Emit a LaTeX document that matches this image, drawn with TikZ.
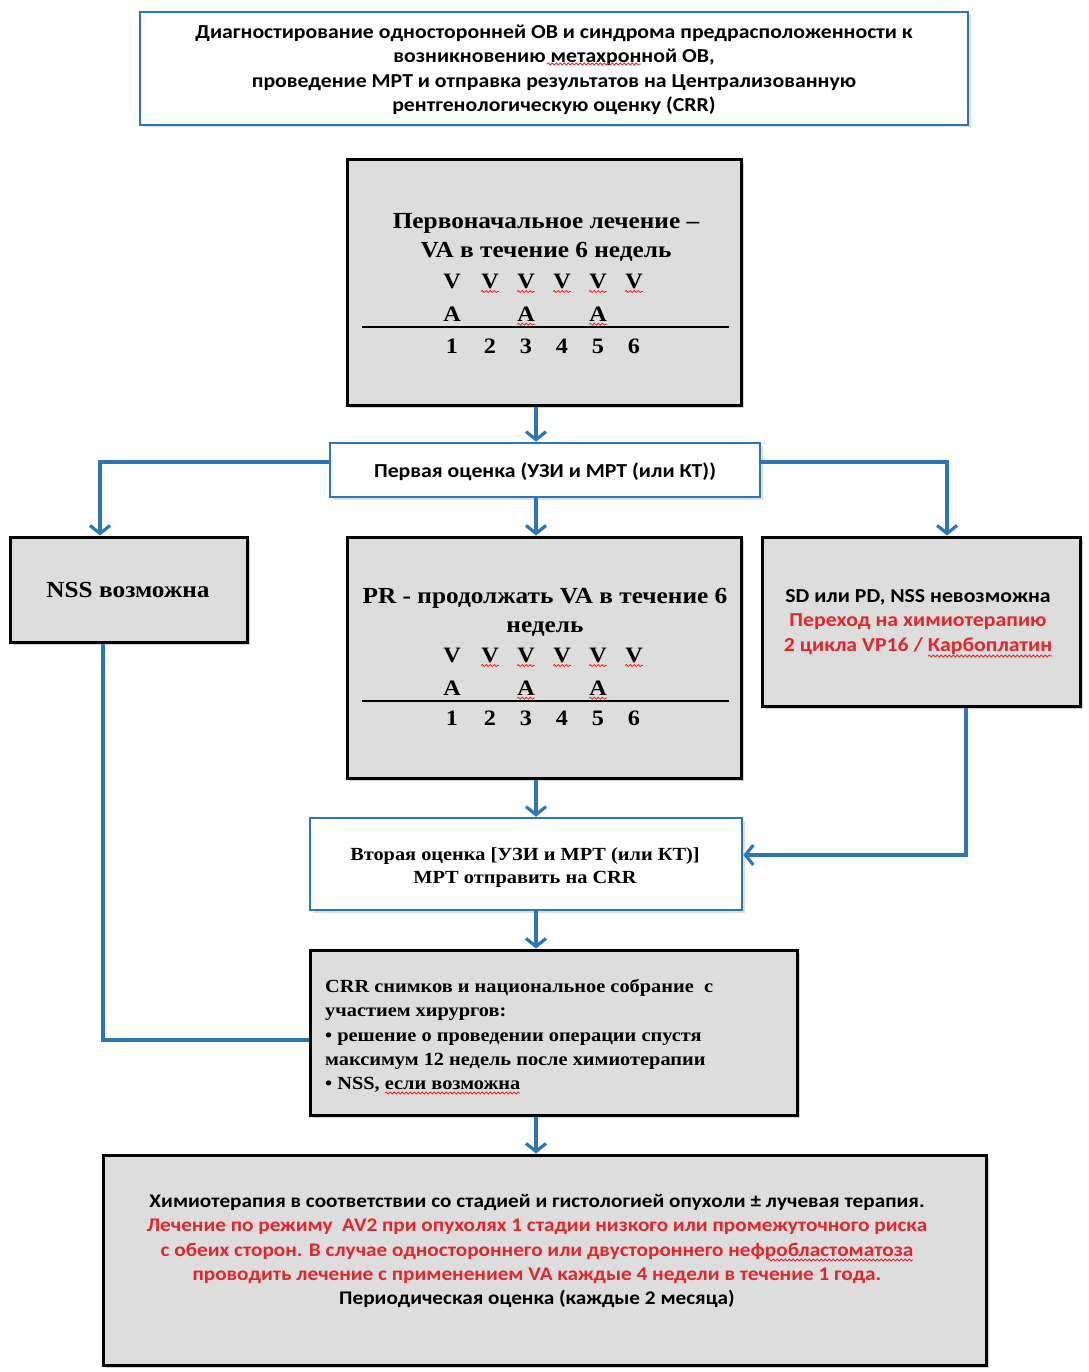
\documentclass[tikz,border=0pt]{standalone}
\usepackage{fontspec}
\setmainfont[FakeStretch=1.1]{Liberation Serif}
\newfontfamily\calfont[FakeStretch=1.1]{Carlito}
\usetikzlibrary{arrows.meta,shadows,decorations.pathmorphing}
\definecolor{lnblue}{HTML}{2E75B6}
\definecolor{boxgray}{HTML}{DDDDDD}
\definecolor{txtred}{HTML}{E3262C}
\begin{document}
\begin{tikzpicture}[x=1pt,y=-1pt,
  bluebox/.style={draw=lnblue,line width=2.6pt,fill=white,rectangle,inner sep=0pt,
    drop shadow={opacity=0.25,shadow xshift=2.5pt,shadow yshift=-2.5pt}},
  graybox/.style={draw=black,line width=3pt,fill=boxgray,rectangle,inner sep=0pt,
    drop shadow={opacity=0.35,shadow xshift=2.5pt,shadow yshift=-2.5pt}},
  arr/.style={draw=lnblue,line width=3.4pt,-{Straight Barb[length=8pt,width=20pt,line width=3.2pt]}},
  conn/.style={draw=lnblue,line width=3.4pt},
  serift/.style={font=\fontsize{23}{29}\selectfont\bfseries,inner sep=0pt,align=center},
  sanst/.style={font=\calfont\fontsize{19.8}{24.5}\selectfont\bfseries,inner sep=0pt,align=center},
  cell/.style={font=\fontsize{22}{26}\selectfont\bfseries,inner sep=0pt,anchor=base},
  spell/.style={draw=txtred,line width=0.8pt,decorate,decoration={snake,segment length=4pt,amplitude=1pt}},
  rule/.style={draw=black,line width=2pt}
]
\useasboundingbox (0,0) rectangle (1088,1372);
\coordinate (cx) at (536,0);

% boxes
\node[bluebox,minimum width=828pt,minimum height=113pt] (top) at (554,68.5) {};
\node[graybox,minimum width=394pt,minimum height=245pt] (gray1) at (544,282.5) {};
\node[bluebox,minimum width=430pt,minimum height=54pt] (as1) at (545,470) {};
\node[graybox,minimum width=237pt,minimum height=105pt] (left) at (128.5,589.5) {};
\node[graybox,minimum width=394pt,minimum height=241pt] (mid) at (544,657.5) {};
\node[graybox,minimum width=318pt,minimum height=169pt] (right) at (921,621.5) {};
\node[bluebox,minimum width=432pt,minimum height=92pt] (as2) at (526,864) {};
\node[graybox,minimum width=487pt,minimum height=165pt] (crr) at (553.5,1032.5) {};
\node[graybox,minimum width=883pt,minimum height=210pt] (bot) at (544.5,1260) {};

% texts
\node[sanst] (ttop) at (554,70) {Диагностирование односторонней ОВ и синдрома предрасположенности к\\
возникновению метахронной ОВ,\\
проведение МРТ и отправка результатов на Централизованную\\
рентгенологическую оценку (CRR)};

\node[serift] (tg1) at (546,237) {Первоначальное лечение –\\VA в течение 6 недель};
\foreach \i/\xx in {1/452,2/490,3/526,4/562,5/598,6/634}{
  \node[cell] (va\i) at (\xx,288) {V};
  \node[cell] (vn\i) at (\xx,353) {\i};
  \node[cell] (vb\i) at (\xx,662) {V};
  \node[cell] (vm\i) at (\xx,725) {\i};
}
\foreach \i/\xx in {1/452,3/526,5/598}{
  \node[cell] (aa\i) at (\xx,321) {A};
  \node[cell] (ab\i) at (\xx,695) {A};
}
\draw[rule] (362,327) -- (729,327);
\draw[rule] (362,701) -- (729,701);
\foreach \i in {2,...,6}{
  \draw[spell] ([yshift=-3pt]va\i.south west) -- ([yshift=-3pt]va\i.south east);
  \draw[spell] ([yshift=-3pt]vb\i.south west) -- ([yshift=-3pt]vb\i.south east);
}
\foreach \i in {3,5}{
  \draw[spell] ([yshift=-3pt]aa\i.south west) -- ([yshift=-3pt]aa\i.south east);
  \draw[spell] ([yshift=-3pt]ab\i.south west) -- ([yshift=-3pt]ab\i.south east);
}

\node[sanst] (tas1) at (545,472) {Первая оценка (УЗИ и МРТ (или КТ))};
\node[serift] (tleft) at (128,590) {NSS возможна};
\node[serift] (tmid) at (545,612) {PR - продолжать VA в течение 6\\недель};
\node[sanst] (tright) at (918,622) {SD или PD, NSS невозможна\\
\textcolor{txtred}{Переход на химиотерапию}\\
\textcolor{txtred}{2 цикла VP16 / Карбоплатин}};

\node[font=\fontsize{18.5}{23}\selectfont\bfseries,inner sep=0pt,align=center] (tas2) at (525,868) {Вторая оценка [УЗИ и МРТ (или КТ)]\\МРТ отправить на CRR};
\node[font=\fontsize{18.5}{24.3}\selectfont\bfseries,inner sep=0pt,align=left,anchor=west] (tcrr) at (325,1036) {CRR снимков и национальное собрание~~с\\
участием хирургов:\\
• решение о проведении операции спустя\\
максимум 12 недель после химиотерапии\\
• NSS, если возможна};

\node[sanst,font=\calfont\fontsize{19.3}{24.3}\selectfont\bfseries] (tbot) at (537,1251) {Химиотерапия в соответствии со стадией и гистологией опухоли ± лучевая терапия.\\
\textcolor{txtred}{Лечение по режиму~~AV2 при опухолях 1 стадии низкого или промежуточного риска}\\
\textcolor{txtred}{с обеих сторон. В случае одностороннего или двустороннего нефробластоматоза}\\
\textcolor{txtred}{проводить лечение с применением VA каждые 4 недели в течение 1 года.}\\
Периодическая оценка (каждые 2 месяца)};

% spell-check squiggles under words
\draw[spell] (547,64) -- (641,64);
\draw[spell] (928,656) -- (1052,656);
\draw[spell] (385,1093) -- (520,1093);
\draw[spell] (768,1260) -- (913,1260);

% connectors
\draw[arr] (gray1.south -| cx) -- (as1.north -| cx);
\coordinate (lj) at (100,462);
\coordinate (rj) at (947,462);
\draw[arr] (as1.west |- lj) -| (left.north -| lj);
\draw[arr] (as1.east |- rj) -| (right.north -| rj);
\draw[arr] (as1.south -| cx) -- (mid.north -| cx);
\draw[arr] (mid.south -| cx) -- (as2.north -| cx);
\coordinate (rd) at (966,855);
\draw[arr] (right.south -| rd) |- (as2.east |- rd);
\coordinate (ld) at (103,1040);
\draw[conn] (left.south -| ld) |- (crr.west |- ld);
\draw[arr] (as2.south -| cx) -- (crr.north -| cx);
\draw[arr] (crr.south -| cx) -- (bot.north -| cx);
\end{tikzpicture}
\end{document}
